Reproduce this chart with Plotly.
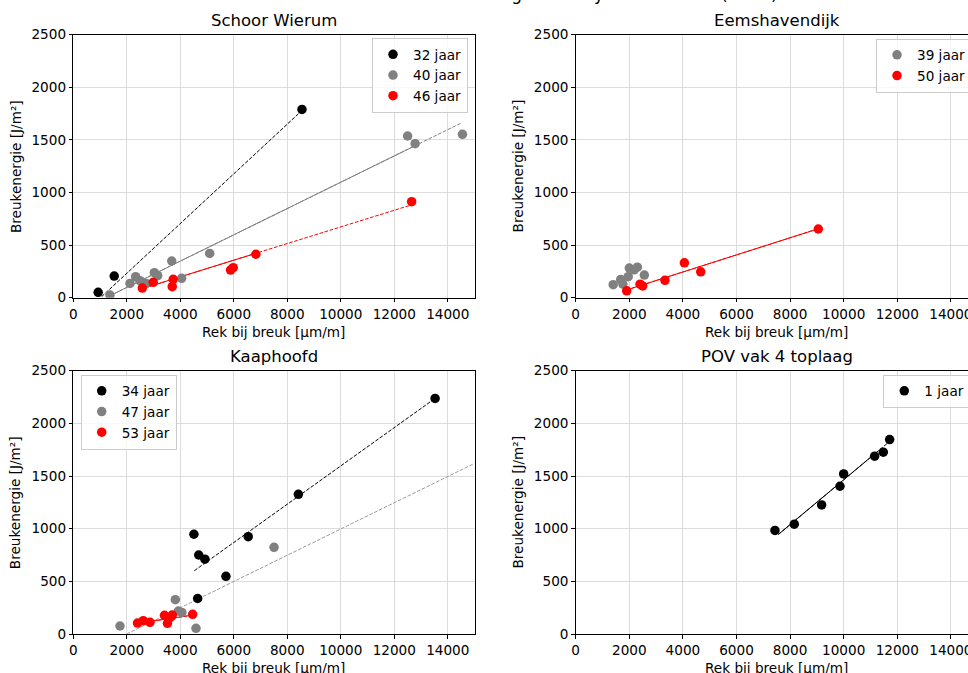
import plotly.graph_objects as go

# ---------------------------------------------------------------------------
# Data: rek bij breuk [µm/m] (x) en breukenergie [J/m²] (y) per locatie/leeftijd
# ---------------------------------------------------------------------------

# Schoor Wierum
sw32_x = [930, 1530, 8550]
sw32_y = [51, 206, 1790]
sw40_x = [1370, 2120, 2330, 2490, 2720, 3030, 3155, 3680, 4050, 5100, 12500, 12780, 14550]
sw40_y = [25, 136, 200, 162, 136, 238, 209, 349, 184, 421, 1537, 1464, 1553]
sw46_x = [2580, 2990, 3700, 3735, 5880, 5980, 6825, 12650]
sw46_y = [92, 146, 105, 175, 263, 285, 413, 913]

# Eemshavendijk
em39_x = [1400, 1680, 1760, 1960, 2000, 2180, 2300, 2560]
em39_y = [124, 174, 130, 200, 282, 265, 290, 215]
em50_x = [1903, 2400, 2500, 3330, 4055, 4665, 9053]
em50_y = [65, 128, 112, 165, 332, 246, 653]

# Kaaphoofd
kh34_x = [4510, 4690, 4920, 4650, 5707, 6540, 8415, 13527]
kh34_y = [947, 750, 710, 337, 548, 924, 1326, 2237]
kh47_x = [1745, 3815, 3930, 4060, 4587, 7505]
kh47_y = [76, 326, 218, 205, 54, 823]
kh53_x = [2400, 2617, 2867, 3410, 3520, 3560, 3660, 3700, 4462]
kh53_y = [104, 126, 111, 177, 101, 142, 165, 180, 187]

# POV vak 4 toplaag
pov1_x = [7436, 8157, 9177, 9861, 9998, 11154, 11477, 11714]
pov1_y = [983, 1043, 1226, 1403, 1520, 1688, 1726, 1846]

# Trendlijnen: begin- en eindpunt, plus x tot waar de lijn doorgetrokken is
trend_sw32_x, trend_sw32_y, trend_sw32_solid = [1060, 8500], [10, 1768], None
trend_sw40_x, trend_sw40_y, trend_sw40_solid = [1371, 14524], [19, 1663], 12780
trend_sw46_x, trend_sw46_y, trend_sw46_solid = [2581, 12554], [86, 875], 6857
trend_em50_x, trend_em50_y, trend_em50_solid = [1903, 9053], [74, 655], 9053
trend_kh34_x, trend_kh34_y, trend_kh34_solid = [4526, 13527], [601, 2237], None
trend_kh47_x, trend_kh47_y, trend_kh47_solid = [2000, 15000], [0, 1620], None
trend_kh53_x, trend_kh53_y, trend_kh53_solid = [2369, 4488], [101, 180], 4488
trend_pov1_x, trend_pov1_y, trend_pov1_solid = [7560, 11720], [945, 1830], 11154

x_ticks = [0, 2000, 4000, 6000, 8000, 10000, 12000, 14000]
y_ticks = [0, 500, 1000, 1500, 2000, 2500]

subplot_titles = ["Schoor Wierum", "Eemshavendijk", "Kaaphoofd", "POV vak 4 toplaag"]
x_label = "Rek bij breuk [µm/m]"
y_label = "Breukenergie [J/m²]"
suptitle = "Breukenergie – Analyse ouderdom (2019)"

# ---------------------------------------------------------------------------
W, H = 968, 673
FONT = "DejaVu Sans"
BLACK, GRAY, RED = "#000000", "#808080", "#ff0000"

# plot areas in pixels: (left, right, top, bottom)
cols = [(73.3, 474.5), (575.7, 977.7)]
rows = [(34.7, 297.7), (370.7, 634.0)]
X_MAX = 15000
PAD = "\u00a0\u00a0"  # keeps the right-hand legend boxes as wide as the left ones


def px_x(p):
    return p / W


def px_y(p):
    return 1 - p / H


fig = go.Figure()

panels = [
    ("x", "y", "legend", "", [("32 jaar", sw32_x, sw32_y, BLACK), ("40 jaar", sw40_x, sw40_y, GRAY),
                              ("46 jaar", sw46_x, sw46_y, RED)],
     [(trend_sw32_x, trend_sw32_y, trend_sw32_solid, BLACK),
      (trend_sw40_x, trend_sw40_y, trend_sw40_solid, GRAY),
      (trend_sw46_x, trend_sw46_y, trend_sw46_solid, RED)]),
    ("x2", "y2", "legend2", PAD, [("39 jaar", em39_x, em39_y, GRAY), ("50 jaar", em50_x, em50_y, RED)],
     [(trend_em50_x, trend_em50_y, trend_em50_solid, RED)]),
    ("x3", "y3", "legend3", "", [("34 jaar", kh34_x, kh34_y, BLACK), ("47 jaar", kh47_x, kh47_y, GRAY),
                                 ("53 jaar", kh53_x, kh53_y, RED)],
     [(trend_kh34_x, trend_kh34_y, trend_kh34_solid, BLACK),
      (trend_kh47_x, trend_kh47_y, trend_kh47_solid, "#9a9a9a"),
      (trend_kh53_x, trend_kh53_y, trend_kh53_solid, RED)]),
    ("x4", "y4", "legend4", PAD + PAD, [("1 jaar", pov1_x, pov1_y, BLACK)],
     [(trend_pov1_x, trend_pov1_y, trend_pov1_solid, BLACK)]),
]

for xa, ya, leg, pad, series, trends in panels:
    # trend lines: dashed over the full span, solid over the fitted part
    for tx, ty, solid_to, col in trends:
        fig.add_trace(go.Scatter(x=tx, y=ty, mode="lines", xaxis=xa, yaxis=ya, showlegend=False,
                                 line=dict(color=col, width=1, dash="3.7px,1.6px"), hoverinfo="skip"))
        if solid_to is not None:
            slope = (ty[1] - ty[0]) / (tx[1] - tx[0])
            sx = [tx[0], solid_to]
            sy = [ty[0], ty[0] + slope * (solid_to - tx[0])]
            fig.add_trace(go.Scatter(x=sx, y=sy, mode="lines", xaxis=xa, yaxis=ya, showlegend=False,
                                     line=dict(color=col, width=1), hoverinfo="skip"))
    for name, sx, sy, col in series:
        fig.add_trace(go.Scatter(x=sx, y=sy, mode="markers", name=name + pad, xaxis=xa, yaxis=ya,
                                 legend=leg, marker=dict(color=col, size=9.5, line=dict(width=0))))

axis_common = dict(
    showgrid=True, gridcolor="#dcdcdc", gridwidth=1, zeroline=False,
    showline=True, linecolor="black", linewidth=1,
    ticks="outside", ticklen=3.5, tickwidth=1, tickcolor="black",
    tickfont=dict(family=FONT, size=13.6, color="black"), automargin=False,
    ticklabeloverflow="allow",
)

layout_axes = {}
for i, (r, c) in enumerate([(0, 0), (0, 1), (1, 0), (1, 1)]):
    n = "" if i == 0 else str(i + 1)
    l, rgt = cols[c]
    t, b = rows[r]
    if c == 0:
        xdom = [px_x(l), px_x(rgt)]
        xrange = [0, X_MAX]
        ymirror = True
    else:
        # right column runs past the page edge; show the part that fits
        xdom = [px_x(l), 1.0]
        xrange = [0, X_MAX * (W - l) / (rgt - l)]
        ymirror = False
    layout_axes["xaxis" + n] = dict(axis_common, domain=xdom, range=xrange, anchor="y" + n,
                                    tickvals=x_ticks, ticktext=[str(v) for v in x_ticks], mirror=True)
    layout_axes["yaxis" + n] = dict(axis_common, domain=[px_y(b), px_y(t)], range=[0, 2500],
                                    anchor="x" + n, tickvals=y_ticks,
                                    ticktext=[str(v) for v in y_ticks], mirror=ymirror)

legend_common = dict(
    bgcolor="rgba(255,255,255,0.8)", bordercolor="#cccccc", borderwidth=1,
    font=dict(family=FONT, size=13.6, color="black"), tracegroupgap=0, itemwidth=30,
)

annotations = []
txt = dict(family=FONT, color="black")
for i, (r, c) in enumerate([(0, 0), (0, 1), (1, 0), (1, 1)]):
    l, rgt = cols[c]
    t, b = rows[r]
    cx = (l + rgt) / 2
    annotations.append(dict(text=subplot_titles[i], x=px_x(cx), y=px_y(t - 14.5), xref="paper", yref="paper",
                            xanchor="center", yanchor="middle", showarrow=False, font=dict(txt, size=16.5)))
    annotations.append(dict(text=x_label, x=px_x(cx), y=px_y(b + 34), xref="paper", yref="paper",
                            xanchor="center", yanchor="middle", showarrow=False, font=dict(txt, size=13.6)))
    annotations.append(dict(text=y_label, x=px_x(l - 57.5), y=px_y((t + b) / 2), xref="paper", yref="paper",
                            xanchor="center", yanchor="middle", textangle=-90, showarrow=False,
                            font=dict(txt, size=13.6)))
annotations.append(dict(text=suptitle, x=px_x(422), y=1, xref="paper", yref="paper", xanchor="left",
                        yanchor="bottom", yshift=-6, showarrow=False, font=dict(txt, size=17)))

fig.update_layout(
    width=W, height=H,
    margin=dict(l=0, r=0, t=0, b=0, pad=0, autoexpand=False),
    paper_bgcolor="white", plot_bgcolor="white",
    font=dict(family=FONT, color="black"),
    legend=dict(legend_common, x=px_x(468), xanchor="right", y=px_y(38), yanchor="top"),
    legend2=dict(legend_common, x=px_x(876), xanchor="left", y=px_y(38.5), yanchor="top"),
    legend3=dict(legend_common, x=px_x(80.7), xanchor="left", y=px_y(374.5), yanchor="top"),
    legend4=dict(legend_common, x=px_x(883.3), xanchor="left", y=px_y(374.5), yanchor="top"),
    annotations=annotations,
    **layout_axes,
)

fig.write_html("out.html")
